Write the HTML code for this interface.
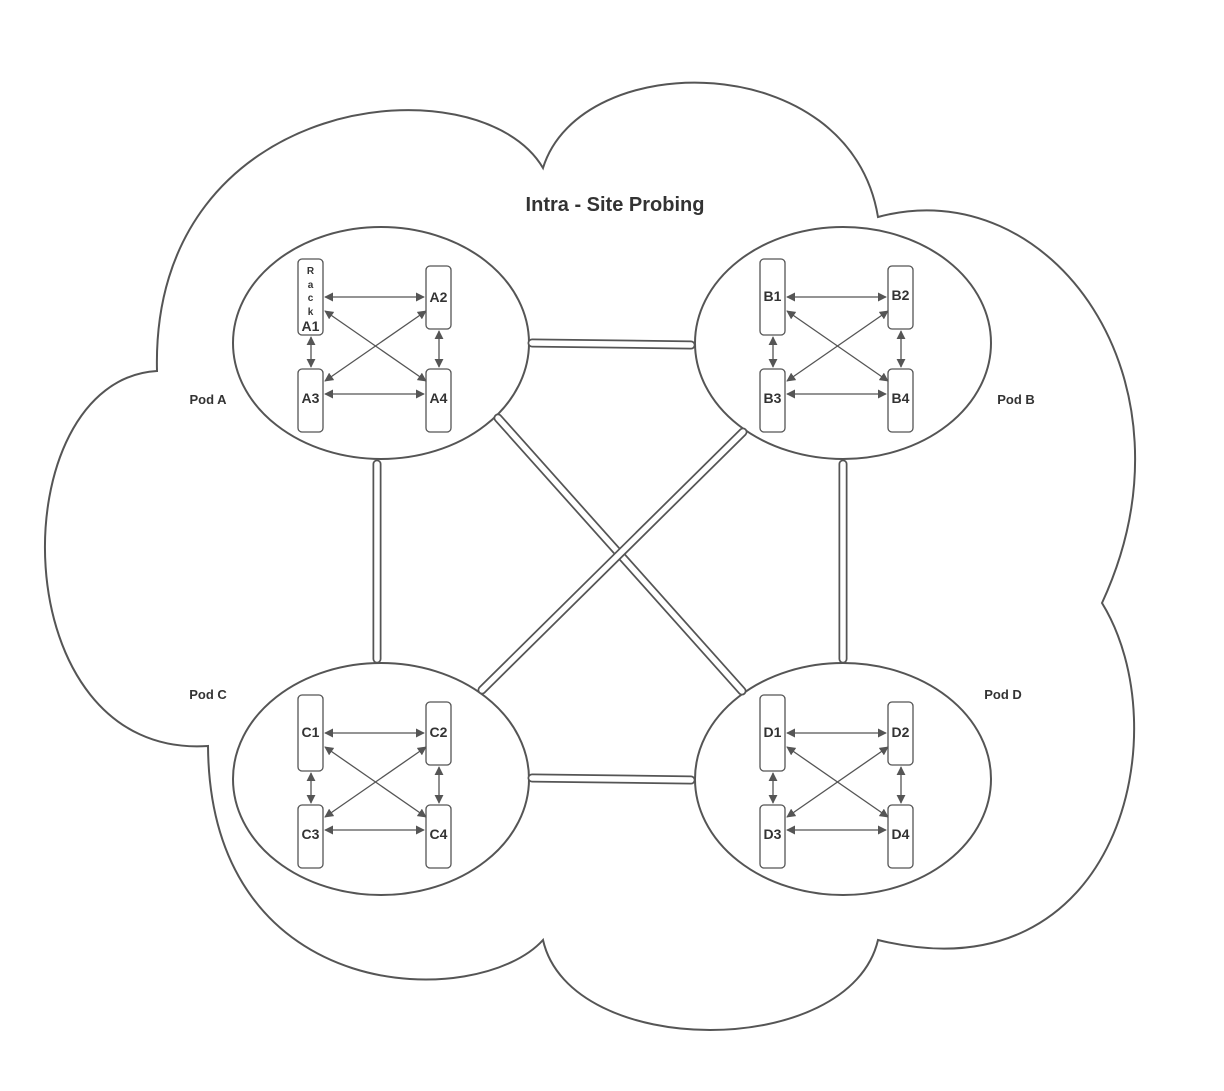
<!DOCTYPE html>
<html><head><meta charset="utf-8"><style>
html,body{margin:0;padding:0;background:#fff;}
svg{display:block;}
text{font-family:"Liberation Sans",sans-serif;font-weight:bold;fill:#333;}
</style></head><body>
<svg width="1224" height="1091" viewBox="0 0 1224 1091" xmlns="http://www.w3.org/2000/svg">
<defs>
<marker id="ar" viewBox="0 0 10 10" refX="9" refY="5" markerWidth="9" markerHeight="9" markerUnits="userSpaceOnUse" orient="auto-start-reverse">
<path d="M0,0 L10,5 L0,10 z" fill="#555"/></marker>
<g id="pod" stroke="#555" fill="none">
<ellipse cx="381" cy="343" rx="148" ry="116" stroke-width="2" fill="#fff"/>
<rect x="298" y="259" width="25" height="76" rx="4" stroke-width="1.3" fill="#fff"/>
<rect x="426" y="266" width="25" height="63" rx="4" stroke-width="1.3" fill="#fff"/>
<rect x="298" y="369" width="25" height="63" rx="4" stroke-width="1.3" fill="#fff"/>
<rect x="426" y="369" width="25" height="63" rx="4" stroke-width="1.3" fill="#fff"/>
<g stroke-width="1.3" marker-start="url(#ar)" marker-end="url(#ar)">
<line x1="325" y1="297" x2="424" y2="297"/>
<line x1="325" y1="394" x2="424" y2="394"/>
<line x1="311" y1="337" x2="311" y2="367"/>
<line x1="439" y1="331" x2="439" y2="367"/>
<line x1="325" y1="311" x2="426" y2="381"/>
<line x1="426" y1="311" x2="325" y2="381"/>
</g>
</g>
</defs>
<path d="M543,168 C580,47 850,47 878,217 C1050,170 1205,380 1102,603 C1180,730 1120,1000 878,940 C850,1060 570,1060 543,940 C480,1010 210,1010 208,746 C0,760 0,380 157,371 C150,90 480,60 543,168 Z" fill="#fff" stroke="#555" stroke-width="2"/>
<text x="615" y="211" font-size="20" text-anchor="middle">Intra - Site Probing</text>
<use href="#pod"/>
<use href="#pod" transform="translate(462,0)"/>
<use href="#pod" transform="translate(0,436)"/>
<use href="#pod" transform="translate(462,436)"/>
<g stroke-linecap="round">
<line x1="532" y1="343" x2="691" y2="345" stroke="#555" stroke-width="9"/>
<line x1="532" y1="343" x2="691" y2="345" stroke="#fff" stroke-width="5.5"/>
<line x1="532" y1="778" x2="691" y2="780" stroke="#555" stroke-width="9"/>
<line x1="532" y1="778" x2="691" y2="780" stroke="#fff" stroke-width="5.5"/>
<line x1="377" y1="464" x2="377" y2="659" stroke="#555" stroke-width="9"/>
<line x1="377" y1="464" x2="377" y2="659" stroke="#fff" stroke-width="5.5"/>
<line x1="843" y1="464" x2="843" y2="659" stroke="#555" stroke-width="9"/>
<line x1="843" y1="464" x2="843" y2="659" stroke="#fff" stroke-width="5.5"/>
<line x1="498" y1="418" x2="742" y2="691" stroke="#555" stroke-width="9"/>
<line x1="498" y1="418" x2="742" y2="691" stroke="#fff" stroke-width="5.5"/>
<line x1="743" y1="432" x2="482" y2="690" stroke="#555" stroke-width="9"/>
<line x1="743" y1="432" x2="482" y2="690" stroke="#fff" stroke-width="5.5"/>
</g>
<g font-size="13" text-anchor="middle">
<text x="208" y="404">Pod A</text>
<text x="1016" y="404">Pod B</text>
<text x="208" y="699">Pod C</text>
<text x="1003" y="699">Pod D</text>
</g>
<g font-size="14" text-anchor="middle">
<text x="310.5" y="274" font-size="10">R</text>
<text x="310.5" y="288" font-size="10">a</text>
<text x="310.5" y="301" font-size="10">c</text>
<text x="310.5" y="315" font-size="10">k</text>
<text x="310.5" y="331">A1</text>
<text x="438.5" y="302">A2</text>
<text x="310.5" y="403">A3</text>
<text x="438.5" y="403">A4</text>
<text x="772.5" y="301">B1</text>
<text x="900.5" y="300">B2</text>
<text x="772.5" y="403">B3</text>
<text x="900.5" y="403">B4</text>
<text x="310.5" y="737">C1</text>
<text x="438.5" y="737">C2</text>
<text x="310.5" y="839">C3</text>
<text x="438.5" y="839">C4</text>
<text x="772.5" y="737">D1</text>
<text x="900.5" y="737">D2</text>
<text x="772.5" y="839">D3</text>
<text x="900.5" y="839">D4</text>
</g>
</svg>
</body></html>
